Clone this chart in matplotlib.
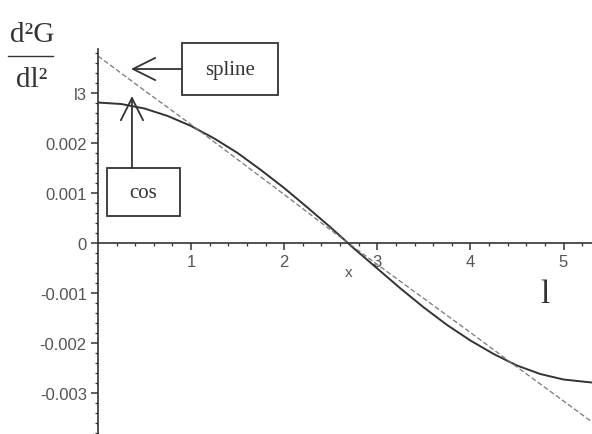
#!/usr/bin/env python
"""
second derivative of G with respect to l: cos curve and spline fit
"""

import numpy as np
import matplotlib.pyplot as plt
from matplotlib.patches import Rectangle
from matplotlib.lines import Line2D

# values, y in units of 1e-3
l_cos = [0.0, 0.25, 0.5, 0.75, 1.0, 1.25, 1.5, 1.75, 2.0, 2.25, 2.5, 2.75,
         3.0, 3.25, 3.5, 3.75, 4.0, 4.25, 4.5, 4.75, 5.0, 5.25, 5.306]
g_cos = [2.80, 2.77, 2.68, 2.53, 2.33, 2.08, 1.79, 1.45, 1.09, 0.70, 0.30,
         -0.12, -0.52, -0.92, -1.30, -1.65, -1.96, -2.23, -2.46, -2.63,
         -2.74, -2.79, -2.80]
l_spline = [0.0, 0.5, 1.0, 1.5, 2.0, 2.5, 3.0, 3.5, 4.0, 4.5, 5.0, 5.306]
g_spline = [3.73, 3.04, 2.36, 1.66, 0.96, 0.25, -0.44, -1.12, -1.80, -2.49,
            -3.17, -3.59]

xticks = [1, 2, 3, 4, 5]
yticks = [0.003, 0.002, 0.001, 0, -0.001, -0.002, -0.003]
ytick_labels = ['l3', '0.002', '0.001', '0', '-0.001', '-0.002', '-0.003']

scale = 1e-3
dark = '#333333'
grey = '#555555'

fig = plt.figure(figsize=(5.92, 4.35), dpi=100)
ax = fig.add_axes([0.1655, 0.0, 0.8345, 0.885])

ax.plot(l_cos, np.array(g_cos) * scale, '-', color=dark, lw=1.4)
ax.plot(l_spline, np.array(g_spline) * scale, '--', color='#777777',
        lw=0.9, dashes=(4, 2))

ax.set_xlim(0, 5.306)
ax.set_ylim(-0.00383, 0.00387)

# axes through the origin, maple style
for side in ['top', 'right']:
    ax.spines[side].set_visible(False)
ax.spines['left'].set_position(('data', 0))
ax.spines['bottom'].set_position(('data', 0))
for side in ['left', 'bottom']:
    ax.spines[side].set_color(dark)
    ax.spines[side].set_linewidth(1.2)

ax.set_xticks(xticks)
ax.set_xticklabels([str(t) for t in xticks])
ax.set_yticks(yticks)
ax.set_yticklabels(ytick_labels)
ax.set_xticks(np.arange(0.2, 5.3, 0.2), minor=True)
ax.set_yticks(np.arange(-0.0038, 0.0039, 0.0002), minor=True)
ax.tick_params(which='major', length=5, width=1.1, color=dark,
               labelcolor=grey, labelsize=12, pad=3)
ax.tick_params(which='minor', length=2.5, width=0.9, color=dark)
for lab in ax.get_xticklabels() + ax.get_yticklabels():
    lab.set_family('Liberation Sans')

# annotation boxes and arrows
serif = 'Liberation Serif'
ax.add_patch(Rectangle((0.170, 0.8805), 0.194, 0.135, transform=ax.transAxes,
                       fill=False, ec=dark, lw=1.3, clip_on=False))
ax.text(0.267, 0.948, 'spline', transform=ax.transAxes, ha='center',
        va='center', fontsize=15, family=serif, color=dark)
ax.annotate('', xy=(0.0668, 0.9481), xytext=(0.170, 0.9481),
            xycoords='axes fraction', textcoords='axes fraction',
            arrowprops=dict(arrowstyle='->,head_length=0.8,head_width=0.4',
                            mutation_scale=20, color=dark, lw=1.3,
                            shrinkA=0, shrinkB=0))

ax.add_patch(Rectangle((0.0182, 0.566), 0.148, 0.125, transform=ax.transAxes,
                       fill=False, ec=dark, lw=1.3, clip_on=False))
ax.text(0.092, 0.628, 'cos', transform=ax.transAxes, ha='center',
        va='center', fontsize=15, family=serif, color=dark)
ax.annotate('', xy=(0.0688, 0.8779), xytext=(0.0688, 0.691),
            xycoords='axes fraction', textcoords='axes fraction',
            arrowprops=dict(arrowstyle='->,head_length=0.8,head_width=0.4',
                            mutation_scale=20, color=dark, lw=1.3,
                            shrinkA=0, shrinkB=0))

# axis labels
fig.text(0.054, 0.92, 'd²G', ha='center', va='center', fontsize=21,
         family=serif, color=dark)
fig.add_artist(Line2D([0.014, 0.09], [0.869, 0.869], color=dark, lw=1.0))
fig.text(0.054, 0.815, 'dl²', ha='center', va='center', fontsize=21,
         family=serif, color=dark)
fig.text(0.9206, 0.322, 'l', ha='center', va='center', fontsize=24,
         family=serif, color=dark)
ax.text(2.69, -0.00058, 'x', ha='center', va='center', fontsize=11,
        family='Liberation Sans', color=grey)

plt.savefig('out.png', dpi=100)
